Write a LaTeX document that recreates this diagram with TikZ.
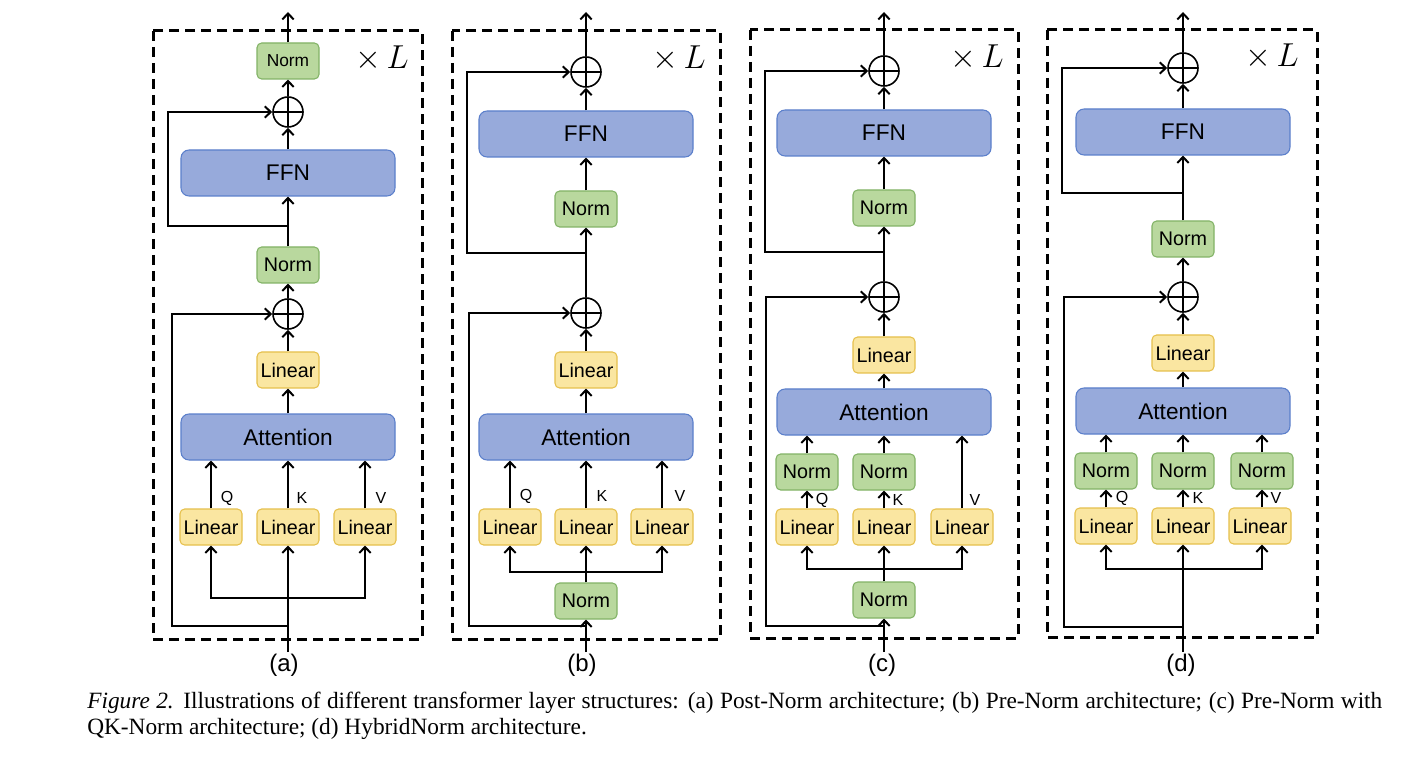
\documentclass[tikz,border=0pt]{standalone}
\usepackage{fontspec}
\setmainfont{Liberation Serif}
\newfontfamily\arialf{Liberation Sans}
\usetikzlibrary{arrows.meta,calc}
\definecolor{bfill}{HTML}{97AADB}
\definecolor{bdraw}{HTML}{5B7FCB}
\definecolor{gfill}{HTML}{B9D89E}
\definecolor{gdraw}{HTML}{82B366}
\definecolor{yfill}{HTML}{FAE6A1}
\definecolor{ydraw}{HTML}{E6C04C}
\begin{document}
\begin{tikzpicture}[x=0.75pt,y=-0.75pt,
  sbox/.style={rounded corners=3.5pt, minimum width=46.5pt, minimum height=27pt, inner sep=0pt, line width=0.8pt, font=\arialf\fontsize{14.8}{16}\selectfont},
  lin/.style={sbox, fill=yfill, draw=ydraw},
  nrm/.style={sbox, fill=gfill, draw=gdraw},
  big/.style={rounded corners=6pt, minimum width=160.5pt, minimum height=34.5pt, inner sep=0pt, fill=bfill, draw=bdraw, line width=0.8pt, font=\arialf\fontsize{17}{20}\selectfont},
  addc/.style={circle, draw, line width=1.2pt, minimum size=22.5pt, inner sep=0pt,
    path picture={\draw[line width=1.2pt] (path picture bounding box.north) -- (path picture bounding box.south) (path picture bounding box.west) -- (path picture bounding box.east);}},
  arr/.style={line width=1.5pt, -{Straight Barb[length=4.5pt,width=8.5pt]}},
  ln/.style={line width=1.5pt},
  dashbox/.style={line width=2.25pt, dash pattern=on 7.5pt off 4.5pt},
  lbl/.style={font=\arialf\fontsize{12}{14}\selectfont, inner sep=0pt},
  captxt/.style={font=\arialf\fontsize{18}{20}\selectfont, inner sep=0pt},
  xl/.style={font=\fontsize{26}{30}\selectfont, inner sep=0pt}
]
\useasboundingbox (0,0) rectangle (1426,762);
\fill[white] (0,0) rectangle (1426,762);

%%%%%%%%%%%%%%%% (a) Post-Norm
\draw[dashbox] (153,31) rectangle (422,639);
\node[xl] (a-xl) at (382,59) {$\times\,L$};
\coordinate (a-out) at (288,12);
\node[nrm, font=\arialf\fontsize{13}{15}\selectfont] (a-norm2) at (288,61) {Norm};
\node[addc] (a-add2) at (288,112) {};
\node[big] (a-ffn) at (288,173) {FFN};
\node[nrm] (a-norm1) at (288,265) {Norm};
\node[addc] (a-add1) at (288,314) {};
\node[lin] (a-lin) at (288,370) {Linear};
\node[big] (a-att) at (288,437) {Attention};
\node[lin] (a-lq) at (211,527) {Linear};
\node[lin] (a-lk) at (288,527) {Linear};
\node[lin] (a-lv) at (365,527) {Linear};
\node[lbl] (a-q) at (227,498) {Q};
\node[lbl] (a-k) at (302,498) {K};
\node[lbl] (a-v) at (381,498) {V};
\coordinate (a-s2) at (288,226);
\coordinate (a-bar) at (288,598);
\coordinate (a-s1) at (288,626);
\coordinate (a-in) at (288,652);
\node[captxt] (a-cap) at (284,665) {(a)};
\draw[arr] (a-norm2.north) -- (a-out);
\draw[arr] (a-add2.north) -- (a-norm2.south);
\draw[arr] (a-ffn.north) -- (a-add2.south);
\draw[arr] (a-norm1.north) -- (a-ffn.south);
\draw[arr] (a-s2) -- ++(-120,0) |- (a-add2.west);
\draw[arr] (a-add1.north) -- (a-norm1.south);
\draw[arr] (a-lin.north) -- (a-add1.south);
\draw[arr] (a-att.north) -- (a-lin.south);
\draw[arr] (a-lq.north) -- (a-lq.north |- a-att.south);
\draw[arr] (a-lk.north) -- (a-lk.north |- a-att.south);
\draw[arr] (a-lv.north) -- (a-lv.north |- a-att.south);
\draw[arr] (a-in) -- (a-lk.south);
\draw[arr] (a-bar) -| (a-lq.south);
\draw[arr] (a-bar) -| (a-lv.south);
\draw[arr] (a-s1) -- ++(-116,0) |- (a-add1.west);

%%%%%%%%%%%%%%%% (b) Pre-Norm
\draw[dashbox] (452,31) rectangle (720,639);
\node[xl] (b-xl) at (679,59) {$\times\,L$};
\coordinate (b-out) at (586,12);
\node[addc] (b-add2) at (586,72) {};
\node[big] (b-ffn) at (586,134) {FFN};
\node[nrm] (b-norm1) at (586,209) {Norm};
\node[addc] (b-add1) at (586,313) {};
\node[lin] (b-lin) at (586,370) {Linear};
\node[big] (b-att) at (586,437) {Attention};
\node[lin] (b-lq) at (510,527) {Linear};
\node[lin] (b-lk) at (586,527) {Linear};
\node[lin] (b-lv) at (662,527) {Linear};
\node[lbl] (b-q) at (526,496) {Q};
\node[lbl] (b-k) at (602,496) {K};
\node[lbl] (b-v) at (680,496) {V};
\node[nrm] (b-norm0) at (586,601) {Norm};
\coordinate (b-s2) at (586,253);
\coordinate (b-bar) at (586,572);
\coordinate (b-s1) at (586,626);
\coordinate (b-in) at (586,652);
\node[captxt] (b-cap) at (582,665) {(b)};
\draw[arr] (b-add2.north) -- (b-out);
\draw[arr] (b-ffn.north) -- (b-add2.south);
\draw[arr] (b-norm1.north) -- (b-ffn.south);
\draw[arr] (b-add1.north) -- (b-norm1.south);
\draw[arr] (b-s2) -- ++(-119,0) |- (b-add2.west);
\draw[arr] (b-lin.north) -- (b-add1.south);
\draw[arr] (b-att.north) -- (b-lin.south);
\draw[arr] (b-lq.north) -- (b-lq.north |- b-att.south);
\draw[arr] (b-lk.north) -- (b-lk.north |- b-att.south);
\draw[arr] (b-lv.north) -- (b-lv.north |- b-att.south);
\draw[arr] (b-norm0.north) -- (b-lk.south);
\draw[arr] (b-bar) -| (b-lq.south);
\draw[arr] (b-bar) -| (b-lv.south);
\draw[arr] (b-in) -- (b-norm0.south);
\draw[arr] (b-s1) -- ++(-117,0) |- (b-add1.west);

%%%%%%%%%%%%%%%% (c) Pre-Norm with QK-Norm
\draw[dashbox] (750,30) rectangle (1018,638);
\node[xl] (c-xl) at (977,58) {$\times\,L$};
\coordinate (c-out) at (884,12);
\node[addc] (c-add2) at (884,71) {};
\node[big] (c-ffn) at (884,133) {FFN};
\node[nrm] (c-norm1) at (884,208) {Norm};
\node[addc] (c-add1) at (884,297) {};
\node[lin] (c-lin) at (884,355) {Linear};
\node[big] (c-att) at (884,412) {Attention};
\node[nrm] (c-nq) at (807,472) {Norm};
\node[nrm] (c-nk) at (884,472) {Norm};
\node[lin] (c-lq) at (807,527) {Linear};
\node[lin] (c-lk) at (884,527) {Linear};
\node[lin] (c-lv) at (962,527) {Linear};
\node[lbl] (c-q) at (822,500) {Q};
\node[lbl] (c-k) at (898,500) {K};
\node[lbl] (c-v) at (975,500) {V};
\node[nrm] (c-norm0) at (884,600) {Norm};
\coordinate (c-s2) at (884,252);
\coordinate (c-bar) at (884,569);
\coordinate (c-s1) at (884,626);
\coordinate (c-in) at (884,652);
\node[captxt] (c-cap) at (882,665) {(c)};
\draw[arr] (c-add2.north) -- (c-out);
\draw[arr] (c-ffn.north) -- (c-add2.south);
\draw[arr] (c-norm1.north) -- (c-ffn.south);
\draw[arr] (c-add1.north) -- (c-norm1.south);
\draw[arr] (c-s2) -- ++(-119,0) |- (c-add2.west);
\draw[arr] (c-lin.north) -- (c-add1.south);
\draw[arr] (c-att.north) -- (c-lin.south);
\draw[arr] (c-nq.north) -- (c-nq.north |- c-att.south);
\draw[arr] (c-nk.north) -- (c-nk.north |- c-att.south);
\draw[arr] (c-lq.north) -- (c-nq.south);
\draw[arr] (c-lk.north) -- (c-nk.south);
\draw[arr] (c-lv.north) -- (c-lv.north |- c-att.south);
\draw[arr] (c-norm0.north) -- (c-lk.south);
\draw[arr] (c-bar) -| (c-lq.south);
\draw[arr] (c-bar) -| (c-lv.south);
\draw[arr] (c-in) -- (c-norm0.south);
\draw[arr] (c-s1) -- ++(-118,0) |- (c-add1.west);

%%%%%%%%%%%%%%%% (d) HybridNorm
\draw[dashbox] (1047,30) rectangle (1317,637);
\node[xl] (d-xl) at (1272,57) {$\times\,L$};
\coordinate (d-out) at (1183,12);
\node[addc] (d-add2) at (1183,68) {};
\node[big] (d-ffn) at (1183,132) {FFN};
\node[nrm] (d-norm1) at (1183,239) {Norm};
\node[addc] (d-add1) at (1183,297) {};
\node[lin] (d-lin) at (1183,353) {Linear};
\node[big] (d-att) at (1183,411) {Attention};
\node[nrm] (d-nq) at (1106,471) {Norm};
\node[nrm] (d-nk) at (1183,471) {Norm};
\node[nrm] (d-nv) at (1262,471) {Norm};
\node[lin] (d-lq) at (1106,526) {Linear};
\node[lin] (d-lk) at (1183,526) {Linear};
\node[lin] (d-lv) at (1260,526) {Linear};
\node[lbl] (d-q) at (1122,498) {Q};
\node[lbl] (d-k) at (1198,498) {K};
\node[lbl] (d-v) at (1276,498) {V};
\coordinate (d-s2) at (1183,193);
\coordinate (d-bar) at (1183,569);
\coordinate (d-s1) at (1183,627);
\coordinate (d-in) at (1183,652);
\node[captxt] (d-cap) at (1181,665) {(d)};
\draw[arr] (d-add2.north) -- (d-out);
\draw[arr] (d-ffn.north) -- (d-add2.south);
\draw[arr] (d-norm1.north) -- (d-ffn.south);
\draw[arr] (d-s2) -- ++(-121,0) |- (d-add2.west);
\draw[arr] (d-add1.north) -- (d-norm1.south);
\draw[arr] (d-lin.north) -- (d-add1.south);
\draw[arr] (d-att.north) -- (d-lin.south);
\draw[arr] (d-nq.north) -- (d-nq.north |- d-att.south);
\draw[arr] (d-nk.north) -- (d-nk.north |- d-att.south);
\draw[arr] (d-nv.north) -- (d-nv.north |- d-att.south);
\draw[arr] (d-lq.north) -- (d-nq.south);
\draw[arr] (d-lk.north) -- (d-nk.south);
\draw[arr] (d-lv.north -| d-nv) -- (d-nv.south);
\draw[arr] (d-in) -- (d-lk.south);
\draw[arr] (d-bar) -| (d-lq.south);
\draw[arr] (d-bar) -| (d-nv.south |- d-lv.south);
\draw[arr] (d-s1) -- ++(-119,0) |- (d-add1.west);

%%%%%%%%%%%%%%%% caption
\node[anchor=base west, inner sep=0pt, font=\fontsize{17.5}{21}\selectfont] (cap1) at (87,708)
  {\makebox[971.25pt][s]{\textit{Figure 2.} Illustrations of different transformer layer structures: (a) Post-Norm architecture; (b) Pre-Norm architecture; (c) Pre-Norm with}};
\node[anchor=base west, inner sep=0pt, font=\fontsize{17.5}{21}\selectfont] (cap2) at (87,734)
  {QK-Norm architecture; (d) HybridNorm architecture.};
\end{tikzpicture}
\end{document}
